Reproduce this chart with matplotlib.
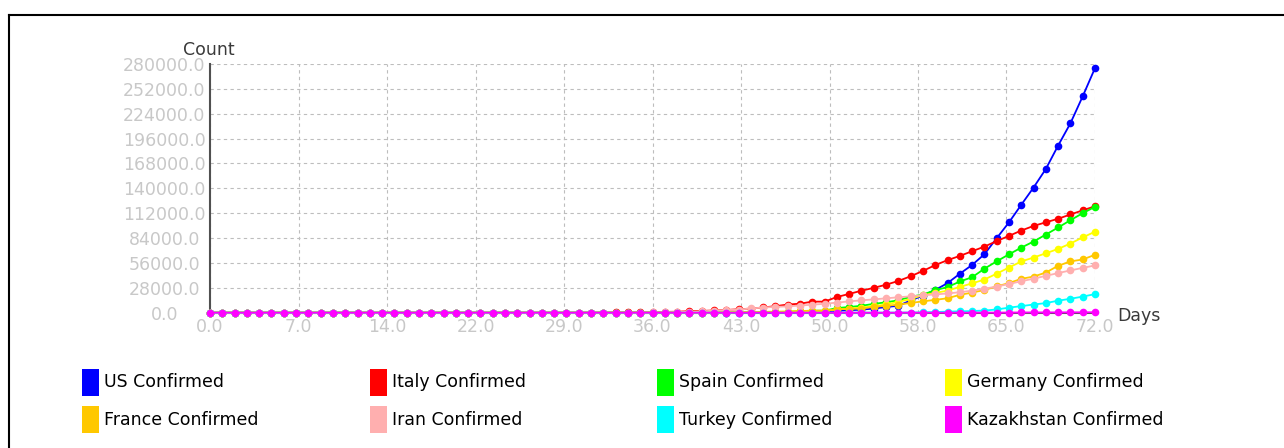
import numpy as np
import matplotlib
matplotlib.use("Agg")
import matplotlib.pyplot as plt
from matplotlib.lines import Line2D
from matplotlib.patches import Rectangle

# day 0 .. 72
days = list(range(73))

us = [1, 1, 2, 2, 5, 5, 5, 5, 5, 7,
      8, 8, 11, 11, 11, 11, 11, 11, 11, 11, 12, 12, 13, 13, 13, 13, 13, 13, 13, 13,
      15, 15, 15, 51, 51, 57, 58, 60, 68,
      74, 98, 118, 149, 217, 262, 402, 518, 583, 959, 1281, 1663, 2179, 2727, 3499,
      4632, 6421, 7783, 13747, 19273, 25600, 33276, 43847, 53740, 65778, 83836,
      101657, 121478, 140886, 161807, 188172,
      213242, 243622, 275367]

italy = [0, 0, 0, 0, 0, 0, 0, 0, 0, 2,
         2, 2, 2, 2, 2, 3, 3, 3, 3, 3, 3, 3, 3, 3, 3, 3, 3, 3, 3, 3,
         20, 62, 155, 229, 322, 453, 655, 888, 1128,
         1694, 2036, 2502, 3089, 3858, 4636, 5883, 7375, 9172, 10149, 12462, 12462,
         17660, 21157, 24747, 27980, 31506, 35713, 41035, 47021, 53578, 59138, 63927,
         69176, 74386, 80589, 86498, 92472, 97689, 101739, 105792,
         110574, 115242, 119827]

spain = [0, 0, 0, 0, 0, 0, 0, 0, 0, 0,
         1, 1, 1, 1, 1, 1, 1, 1, 2, 2, 2, 2, 2, 2, 2, 2, 2, 2, 2, 2, 2, 2, 2, 2,
         6, 13, 15, 32, 45,
         84, 120, 165, 222, 259, 400, 500, 673, 1073, 1695, 2277, 2277, 5232, 6391,
         7798, 9942, 11748, 13910, 17963, 20410, 25374, 28768, 35136, 39885, 49515,
         57786, 65719, 73235, 80110, 87956, 95923,
         104118, 112065, 119199]

germany = [0, 0, 0, 0, 0, 1, 4, 4, 4, 5,
           8, 10, 12, 12, 12, 12, 13, 13, 14, 14,
           16, 16, 16, 16, 16, 16, 16, 16, 16, 16, 16, 16, 16, 16,
           17, 27, 46, 48, 79,
           130, 159, 196, 262, 482, 670, 799, 1040, 1176, 1457, 1908, 2078, 3675, 4585,
           5795, 7272, 9257, 12327, 15320, 19848, 22213, 24873, 29056, 32986, 37323,
           43938, 50871, 57695, 62095, 66885, 71808,
           77872, 84794, 91159]

france = [0, 0, 2, 3, 3, 3, 4, 5, 5, 5,
          6, 6, 6, 6, 6, 6, 6, 11, 11, 11, 11, 11, 11, 11,
          12, 12, 12, 12, 12, 12, 12, 12, 12, 12,
          14, 18, 38, 57, 100,
          130, 191, 204, 288, 380, 656, 959, 1136, 1219, 1794, 2293, 2293, 3681, 4496,
          4532, 6683, 7715, 9124, 10970, 12758, 14463, 16243, 20123, 22622, 25600,
          29551, 33402, 38105, 40708, 45170, 52827,
          57749, 59929, 65202]

iran = [0, 0, 0, 0, 0, 0, 0, 0, 0, 0,
        0, 0, 0, 0, 0, 0, 0, 0, 0, 0, 0, 0, 0, 0, 0, 0, 0, 0,
        2, 5, 18, 28, 43, 61, 95, 139, 245, 388, 593,
        978, 1501, 2336, 2922, 3513, 4747, 5823, 6566, 7161, 8042, 9000, 10075, 11364,
        12729, 13938, 14991, 16169, 17361, 18407, 19644, 20610, 21638, 23049, 24811,
        27017, 29406, 32332, 35408, 38309, 41495, 44605,
        47593, 50468, 53183]

turkey = [0, 0, 0, 0, 0, 0, 0, 0, 0, 0,
          0, 0, 0, 0, 0, 0, 0, 0, 0, 0, 0, 0, 0, 0, 0, 0, 0, 0, 0, 0,
          0, 0, 0, 0, 0, 0, 0, 0, 0,
          0, 0, 0, 0, 0, 0, 0, 0, 0, 0,
          1, 1, 5, 5, 6, 18, 47, 98, 192, 359, 670, 1236, 1529, 1872, 2433, 3629,
          5698, 7402, 9217, 10827, 13531,
          15679, 18135, 20921]

kazakhstan = [0, 0, 0, 0, 0, 0, 0, 0, 0, 0,
              0, 0, 0, 0, 0, 0, 0, 0, 0, 0, 0, 0, 0, 0, 0, 0, 0, 0, 0, 0,
              0, 0, 0, 0, 0, 0, 0, 0, 0,
              0, 0, 0, 0, 0, 0, 0, 0, 0, 0, 0, 0,
              6, 6, 9, 10, 33, 35, 44, 53, 59, 60, 62, 72, 81, 111, 150, 228, 284,
              302, 343,
              380, 435, 464]

labels = ["US Confirmed", "Italy Confirmed", "Spain Confirmed", "Germany Confirmed",
          "France Confirmed", "Iran Confirmed", "Turkey Confirmed", "Kazakhstan Confirmed"]
values = [us, italy, spain, germany, france, iran, turkey, kazakhstan]
colors = ["#0000ff", "#ff0000", "#00ff00", "#ffff00",
          "#ffc800", "#ffafaf", "#00ffff", "#ff00ff"]

W, H = 1284, 448
fig = plt.figure(figsize=(W / 100, H / 100), dpi=100)
ax = fig.add_axes([210 / W, 1 - 312.7 / H, 885 / W, 248.7 / H])

for lab, v, c in zip(labels, values, colors):
    ax.plot(days, v, color=c, lw=1.3, marker="o", markersize=5.5, markeredgewidth=0,
            clip_on=False, zorder=3, label=lab)

ax.set_xlim(0, 72)
ax.set_ylim(0, 280000)

yt = np.arange(0, 280001, 28000)
ax.set_yticks(yt)
ax.set_yticklabels([f"{v:.1f}" for v in yt])
for t in ax.get_yticklabels():
    t.set_horizontalalignment("center")
xt = np.linspace(0, 72, 11)
ax.set_xticks(xt)
ax.set_xticklabels([f"{round(v):.1f}" for v in xt])

ax.tick_params(axis="y", length=0, pad=33, labelsize=12.5, labelcolor="#c8c8c8")
ax.tick_params(axis="x", length=0, pad=4, labelsize=12.5, labelcolor="#c8c8c8")

ax.grid(True, linestyle=(0, (3, 3)), color="#bdbdbd", linewidth=0.8)
ax.set_axisbelow(True)
for s in ["top", "right"]:
    ax.spines[s].set_visible(False)
for s in ["left", "bottom"]:
    ax.spines[s].set_color("#505050")
    ax.spines[s].set_linewidth(1.5)

fig.text(209 / W, 1 - 50 / H, "Count", ha="center", va="center", fontsize=12.5, color="#3a3a3a")
fig.text(1117 / W, 1 - 316 / H, "Days", ha="left", va="center", fontsize=12.5, color="#3a3a3a")

# legend, 4 columns x 2 rows
for i, (lab, c) in enumerate(zip(labels, colors)):
    col, row = i % 4, i // 4
    x0 = 82 + col * 287.7
    yc = 382 + row * 37.5
    fig.add_artist(Rectangle((x0 / W, 1 - (yc + 13.5) / H), 17 / W, 27 / H,
                             transform=fig.transFigure, facecolor=c, edgecolor="none"))
    fig.text((x0 + 22) / W, 1 - yc / H, lab, ha="left", va="center", fontsize=12.5, color="black")

# outer frame (only top and left edges visible)
fig.add_artist(Line2D([9 / W, 9 / W], [0, 1 - 15 / H], transform=fig.transFigure, color="black", lw=1.5))
fig.add_artist(Line2D([9 / W, 1], [1 - 15 / H, 1 - 15 / H], transform=fig.transFigure, color="black", lw=1.5))

fig.savefig("out.png", dpi=100)
